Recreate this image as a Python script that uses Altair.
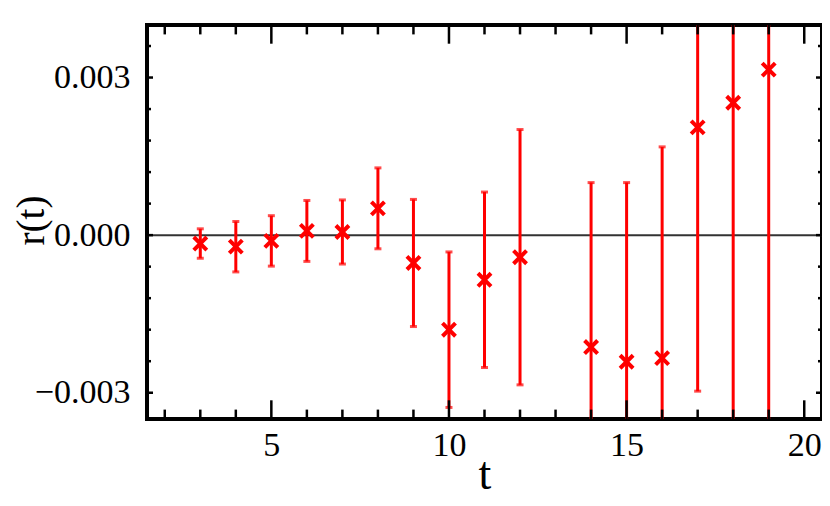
import altair as alt
import pandas as pd

# data
t_vals = [3, 4, 5, 6, 7, 8, 9, 10, 11, 12, 14, 15, 16, 17, 18, 19]
r_vals = [-0.00016, -0.00022, -0.00011, 0.00008, 0.00006, 0.00051, -0.00053, -0.00180,
          -0.00085, -0.00042, -0.00213, -0.00241, -0.00234, 0.00205, 0.00252, 0.00315]
r_errs = [0.00028, 0.00048, 0.00048, 0.00058, 0.00061, 0.00077, 0.00121, 0.00148,
          0.00167, 0.00243, 0.00313, 0.00341, 0.00402, 0.00502, 0.00650, 0.00750]

x_major_ticks = [5, 10, 15, 20]
x_minor_ticks = [2, 3, 4, 6, 7, 8, 9, 11, 12, 13, 14, 16, 17, 18, 19]
y_major_ticks = [-0.003, 0.0, 0.003]
y_minor_ticks = [-0.0024, -0.0018, -0.0012, -0.0006, 0.0006, 0.0012, 0.0018, 0.0024, 0.0036]

W, H = 675, 394
FONT = "Liberation Serif"

df = pd.DataFrame({"t": t_vals, "r": r_vals, "err": r_errs})
df["lo"] = df["r"] - df["err"]
df["hi"] = df["r"] + df["err"]

xscale = alt.Scale(domain=[1.5, 20.5], nice=False, zero=False)
yscale = alt.Scale(domain=[-0.0035, 0.004], nice=False, zero=False)

xaxis = alt.Axis(values=x_major_ticks, format="d", ticks=False, tickSize=0, domain=False,
                 grid=False, labelFont=FONT, labelFontSize=34, labelColor="black",
                 labelPadding=9, labelFlush=False, labelOverlap=False,
                 titleFont=FONT, titleFontSize=46, titleFontWeight="normal",
                 titleColor="black", titleBaseline="alphabetic", titleY=69)
yaxis = alt.Axis(values=y_major_ticks, format=".3f", ticks=False, tickSize=0, domain=False,
                 grid=False, labelFont=FONT, labelFontSize=34, labelColor="black",
                 labelPadding=17, labelFlush=False, labelOverlap=False,
                 titleFont=FONT, titleFontSize=39, titleFontWeight="normal",
                 titleColor="black", titleAngle=270, titleAlign="center",
                 titleBaseline="alphabetic", titleX=-104, titleY=195)

X = alt.X("t:Q", scale=xscale, axis=xaxis, title="t")
Y = alt.Y("r:Q", scale=yscale, axis=yaxis, title="r(t)")

base = alt.Chart(df)

zero_line = alt.Chart(pd.DataFrame({"r": [0.0]})).mark_rule(
    color="#333333", strokeWidth=2).encode(y=Y)

bars = base.mark_rule(color="#ff0000", strokeWidth=3, clip=True).encode(
    x=X, y=alt.Y("lo:Q", scale=yscale, axis=yaxis, title="r(t)"), y2="hi:Q")

caps_lo = base.mark_tick(color="#ff0000", orient="horizontal", size=7, thickness=3,
                         clip=True).encode(
    x=X, y=alt.Y("lo:Q", scale=yscale, axis=yaxis, title="r(t)"))
caps_hi = base.mark_tick(color="#ff0000", orient="horizontal", size=7, thickness=3,
                         clip=True).encode(
    x=X, y=alt.Y("hi:Q", scale=yscale, axis=yaxis, title="r(t)"))

points = base.mark_point(shape="M-1,-1L1,1M-1,1L1,-1", filled=False, color="#ff0000",
                         strokeWidth=4, size=170, opacity=1, clip=True).encode(x=X, y=Y)

def xticks(vals, length):
    d = alt.Chart(pd.DataFrame({"t": vals}))
    top = d.mark_rule(color="black", strokeWidth=2.5).encode(
        x=X, y=alt.value(0), y2=alt.value(length))
    bot = d.mark_rule(color="black", strokeWidth=2.5).encode(
        x=X, y=alt.value(H), y2=alt.value(H - length))
    return [top, bot]

def yticks(vals, length):
    d = alt.Chart(pd.DataFrame({"r": vals}))
    left = d.mark_rule(color="black", strokeWidth=2.5).encode(
        y=Y, x=alt.value(0), x2=alt.value(length))
    right = d.mark_rule(color="black", strokeWidth=2.5).encode(
        y=Y, x=alt.value(W), x2=alt.value(W - length))
    return [left, right]

layers = ([zero_line, bars, caps_lo, caps_hi, points]
          + xticks(x_major_ticks, 18.7) + xticks(x_minor_ticks, 9.4)
          + yticks(y_major_ticks, 6) + yticks(y_minor_ticks, 4))

chart = alt.layer(*layers).properties(
    width=W, height=H,
    autosize=alt.AutoSizeParams(type="none"),
    padding={"left": 139, "top": 17, "right": 0, "bottom": 79},
    background="white",
).configure_view(stroke="black", strokeWidth=4)

chart.save("out.html", embed_options={"renderer": "svg", "actions": False})
